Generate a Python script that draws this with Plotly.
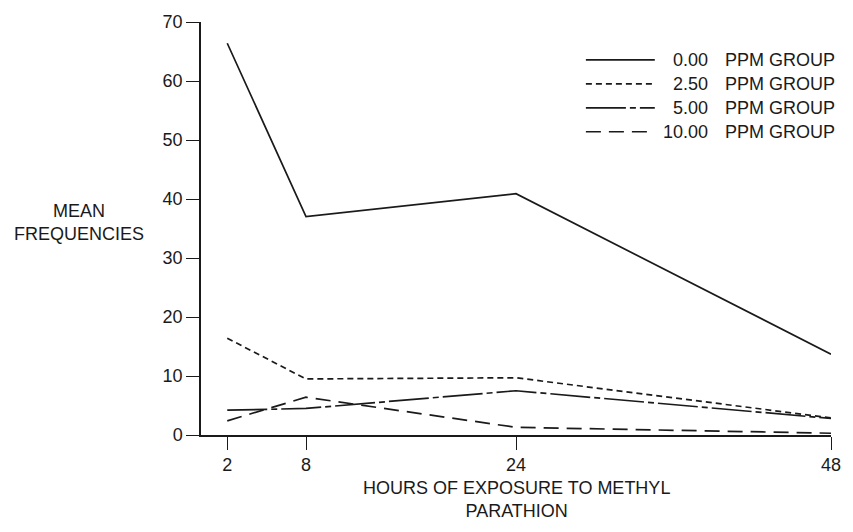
import plotly.graph_objects as go

hours = [2, 8, 24, 48]
group_names = ["0.00", "2.50", "5.00", "10.00"]
ppm_000 = [66.4, 37.0, 40.9, 13.7]
ppm_250 = [16.4, 9.5, 9.7, 2.9]
ppm_500 = [4.2, 4.5, 7.5, 2.8]
ppm_1000 = [2.4, 6.4, 1.3, 0.3]
y_ticks = [0, 10, 20, 30, 40, 50, 60, 70]
x_title = "HOURS OF EXPOSURE TO METHYL<br>PARATHION"
y_title = "MEAN<br>FREQUENCIES"

series = [ppm_000, ppm_250, ppm_500, ppm_1000]
dashes = ["solid", "6px,4px", "40px,4px,6px,4px", "15px,8px"]

FONT = "Liberation Sans, Arial, Helvetica, sans-serif"
INK = "#1a1a1a"
FS = 18

fig = go.Figure()
for name, vals, dash in zip(group_names, series, dashes):
    fig.add_trace(go.Scatter(
        x=hours, y=vals, mode="lines", name=name + " PPM GROUP",
        line=dict(color=INK, width=1.7, dash=dash), showlegend=False,
    ))

# Manual legend (long line samples, right-aligned numbers)
L, R, T, B = 201, 12, 21, 97
W, H = 853 - L - R, 532 - T - B
def px(x):
    return (x - L) / W
def py(y):
    return (T + H - y) / H

shapes = []
annotations = []
for i, (name, dash) in enumerate(zip(group_names, dashes)):
    yy = py(59 + 24 * i)
    shapes.append(dict(type="line", xref="paper", yref="paper",
                       x0=px(592), x1=px(662), y0=yy, y1=yy,
                       line=dict(color=INK, width=1.7, dash=dash)))
    annotations.append(dict(xref="paper", yref="paper", x=px(718), y=yy,
                            text=name, showarrow=False, xanchor="right",
                            yanchor="middle", font=dict(size=FS, color=INK, family=FONT)))
    annotations.append(dict(xref="paper", yref="paper", x=px(731), y=yy,
                            text="PPM GROUP", showarrow=False, xanchor="left",
                            yanchor="middle", font=dict(size=FS, color=INK, family=FONT)))

annotations.append(dict(xref="paper", yref="paper", x=px(77), y=py(221.5),
                        text=y_title, showarrow=False, xanchor="center", yanchor="middle",
                        font=dict(size=FS, color=INK, family=FONT)))
annotations.append(dict(xref="paper", yref="paper", x=0.5, y=py(499.5),
                        text=x_title, showarrow=False, xanchor="center", yanchor="middle",
                        font=dict(size=FS, color=INK, family=FONT)))

fig.update_layout(
    width=853, height=532,
    margin=dict(l=L, r=R, t=T, b=B),
    paper_bgcolor="white", plot_bgcolor="white",
    font=dict(family=FONT, size=FS, color=INK),
    shapes=shapes, annotations=annotations,
    xaxis=dict(range=[0, 48], tickvals=hours, ticktext=[str(h) for h in hours],
               showgrid=False, zeroline=False, showline=True, linecolor=INK, linewidth=1.5,
               ticks="outside", ticklen=13, tickwidth=1.3, tickcolor=INK,
               tickfont=dict(size=FS, color=INK, family=FONT)),
    yaxis=dict(range=[0, 70], tickvals=y_ticks, showgrid=False, zeroline=False,
               showline=True, linecolor=INK, linewidth=1.5,
               ticks="outside", ticklen=13, tickwidth=1.3, tickcolor=INK,
               tickfont=dict(size=FS, color=INK, family=FONT)),
)

fig.write_html("out.html", config={"displayModeBar": False},
               post_script="document.body.style.margin='0';")
